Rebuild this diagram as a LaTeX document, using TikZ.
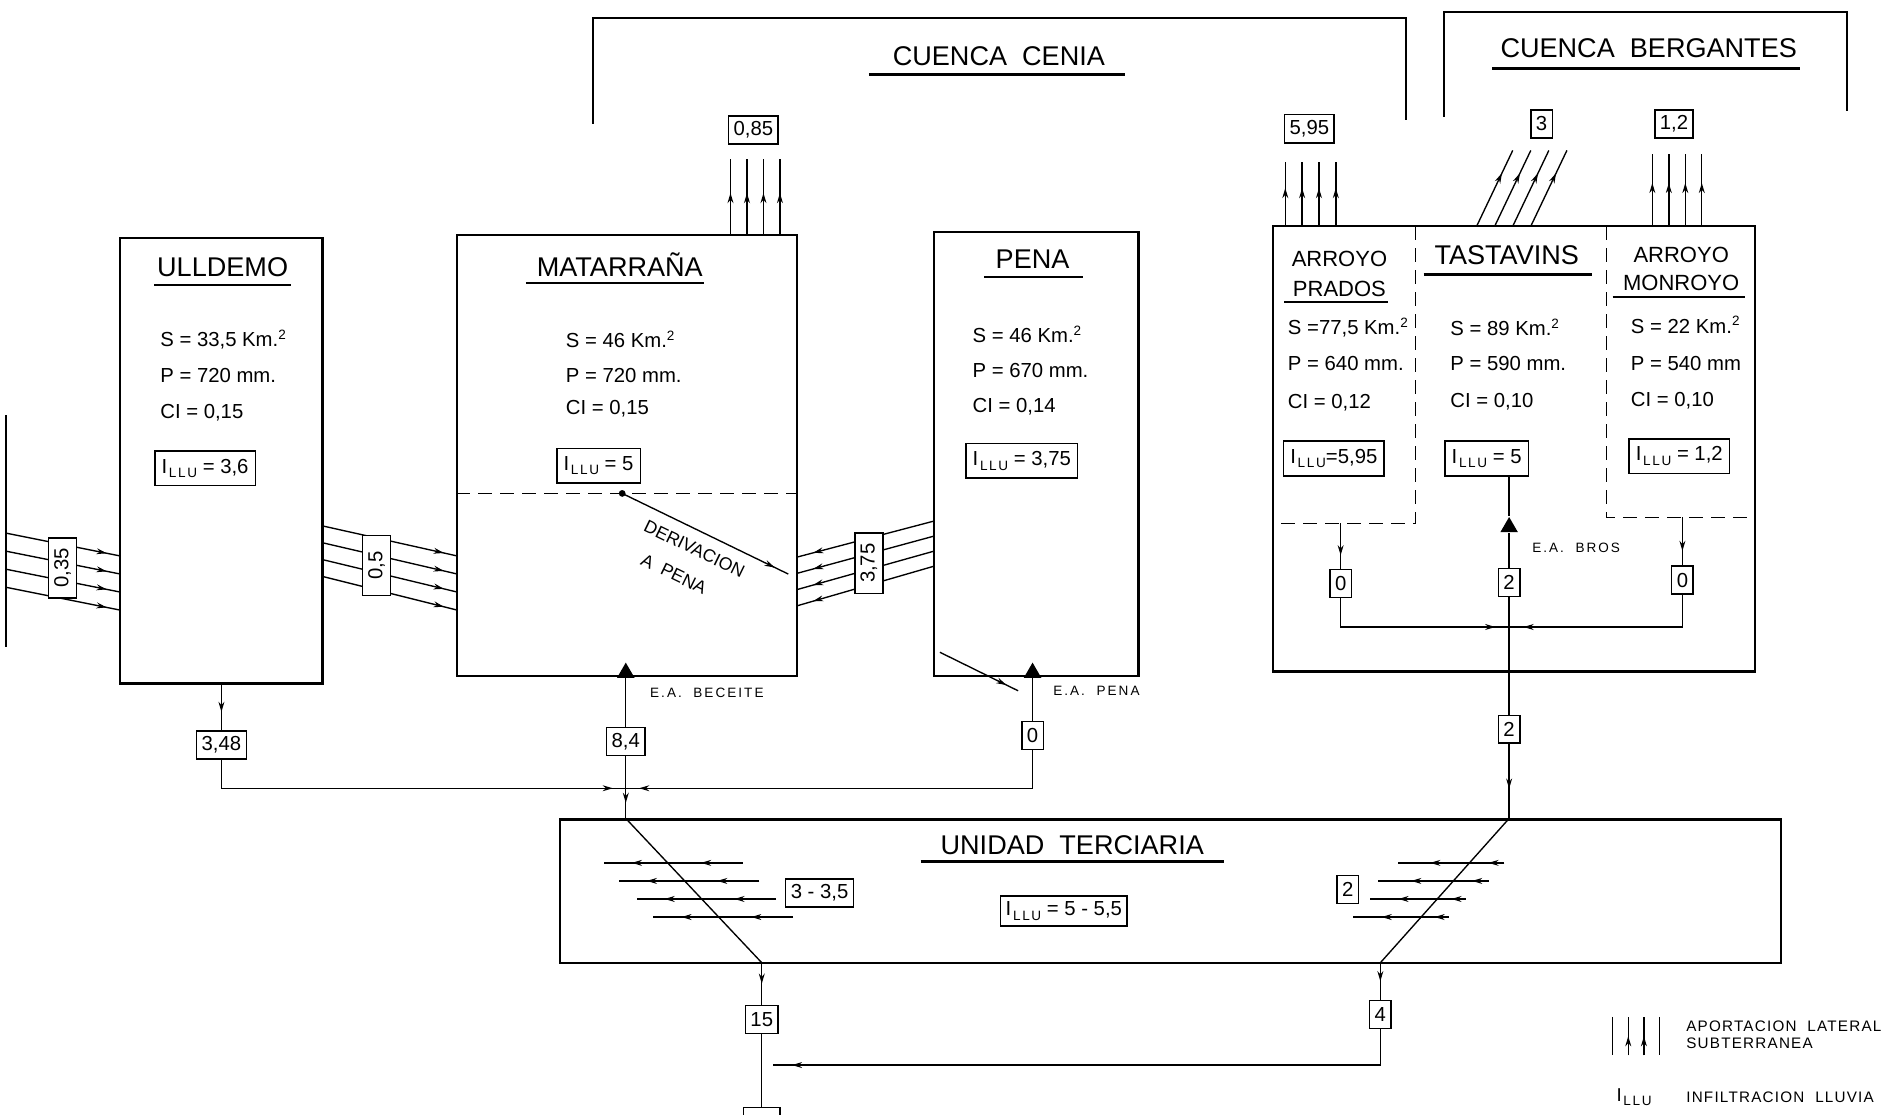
\documentclass[tikz,border=0pt]{standalone}
\usepackage{fontspec}
\setmainfont{Liberation Sans}
\newfontfamily\spaced{Liberation Sans}[LetterSpace=15]
\newfontfamily\legfont{Liberation Sans}[LetterSpace=8]
\usetikzlibrary{positioning,fit,arrows.meta,decorations.markings,shapes.geometric}
\newcommand\illu{I\kern1pt\raisebox{-0.4ex}{\fontsize{8}{8}\selectfont L\kern1pt L\kern1pt U}}
\tikzset{
  box/.style={draw,line width=1.3pt,inner sep=0pt},
  val/.style={draw,fill=white,line width=0.9pt,inner xsep=3pt,minimum height=0.58cm,font=\fontsize{12}{12}\selectfont},
  rval/.style={val,rotate=90,minimum width=1.25cm},
  ilbox/.style={draw,line width=0.9pt,inner xsep=4pt,minimum height=0.72cm,anchor=west,font=\fontsize{12}{12}\selectfont},
  dat/.style={anchor=west,font=\fontsize{12}{12}\selectfont},
  ttl/.style={font=\fontsize{16}{16}\selectfont},
  sttl/.style={font=\fontsize{13}{13}\selectfont},
  lbl/.style={anchor=west,font=\spaced\fontsize{8}{8}\selectfont},
  rlbl/.style={anchor=center,rotate=-25.9,font=\fontsize{10.5}{10.5}\selectfont},
  leg/.style={anchor=west,font=\legfont\fontsize{9}{9}\selectfont},
  uline/.style={line width=1.5pt},
  tri/.style={regular polygon,regular polygon sides=3,fill,inner sep=0pt,minimum size=0.42cm},
  midarr/.style={postaction={decorate},decoration={markings,mark=at position #1 with {\arrow{Stealth[length=6pt,width=3.5pt]}}}},
  midarr/.default=0.5,
  twoarr/.style 2 args={postaction={decorate},decoration={markings,
      mark=at position #1 with {\arrow{Stealth[length=6pt,width=3.5pt]}},
      mark=at position #2 with {\arrow{Stealth[length=6pt,width=3.5pt]}}}},
  dsh/.style={dash pattern=on 8pt off 5pt}
}
\begin{document}
\begin{tikzpicture}[x=0.025cm,y=-0.025cm,line width=0.8pt]
\useasboundingbox (0,0) rectangle (1568,926);

\coordinate (cenl) at (493,103);
\coordinate (cenr) at (1168,100);
\coordinate (berl) at (1200,97);
\coordinate (berr) at (1535,92);
\draw[line width=1.3pt] (cenl) -- (493,15) -- (1168,15) -- (cenr);
\draw[line width=1.3pt] (berl) -- (1200,10) -- (1535,10) -- (berr);
\node[ttl] (cenia) at (830,47) {CUENCA\ \ CENIA};
\draw[uline] (722,62) -- (935,62);
\node[ttl] (bergantes) at (1370,40) {CUENCA\ \ BERGANTES};
\draw[uline] (1240,57) -- (1496,57);

\node[box,fit={(100,198) (268,568)}] (ull) {};
\node[ttl] (tull) at (185,222) {ULLDEMO};
\draw[uline] (128,237) -- (242,237);
\node[dat] (sull) at (128,282) {S = 33,5 Km.\textsuperscript{2}};
\node[dat] (pull) at (128,312) {P = 720 mm.};
\node[dat] (cull) at (128,343) {CI = 0,15};
\node[ilbox] (iull) at (128,389) {\illu{} = 3,6};

\node[box,fit={(380,195) (662,562)}] (mat) {};
\node[ttl] (tmat) at (515,220) {MATARRAÑA};
\draw[uline] (437,235) -- (585,235);
\node[dat] (smat) at (465,282) {S = 46 Km.\textsuperscript{2}};
\node[dat] (pmat) at (465,312) {P = 720 mm.};
\node[dat] (cmat) at (465,340) {CI = 0,15};
\node[ilbox] (imat) at (462,387) {\illu{} = 5};
\draw[dsh] (mat.west |- 0,410) -- (mat.east |- 0,410);
\coordinate (dv0) at (517,410);
\coordinate (dv1) at (655,477);
\draw[midarr=0.92] (dv0) -- (dv1);
\fill (dv0) circle (2pt);
\node[rlbl] (tder) at (577,456) {DERIVACION};
\node[rlbl] (tape) at (560,477) {A\ \ PENA};

\node[box,fit={(776,193) (946,562)}] (pen) {};
\node[ttl] (tpen) at (858,215) {PENA};
\draw[uline] (818,230) -- (900,230);
\node[dat] (spen) at (803,278) {S = 46 Km.\textsuperscript{2}};
\node[dat] (ppen) at (803,308) {P = 670 mm.};
\node[dat] (cpen) at (803,338) {CI = 0,14};
\node[ilbox] (ipen) at (802,383) {\illu{} = 3,75};
\draw[midarr=0.85] (781,542) -- (846,574);

\draw (5,345) -- (5,538);
\foreach \i in {0,...,3}
  \draw[midarr=0.88] (5,443+15*\i) -- (100,462+15*\i);
\node[rval] (v035) at (52,472) {0,35};
\foreach \i in {0,...,3}
  \draw[midarr=0.9] (268,437+14*\i) -- (380,462+15*\i);
\node[rval] (v05) at (313,470) {0,5};
\foreach \i in {0,...,3}
  \draw[midarr=0.88] (776,433+12.5*\i) -- (662,463+13.5*\i);
\node[rval] (v375) at (722,468) {3,75};
\foreach \i in {0,...,3}
  \draw[midarr=0.55] (607+13.7*\i,195) -- (607+13.7*\i,132);
\node[val] (v085) at (626,108) {0,85};

\node[box,fit={(1058,188) (1458,558)}] (ber) {};
\draw[dsh] (1176,188) -- (1176,435) -- (1058,435);
\draw[dsh] (1335,188) -- (1335,430) -- (1458,430);
\node[sttl] (tpra1) at (1113,215) {ARROYO};
\node[sttl] (tpra2) at (1113,240) {PRADOS};
\draw[line width=1pt] (1067,251) -- (1153,251);
\node[ttl] (ttas) at (1252,212) {TASTAVINS};
\draw[uline] (1183,228) -- (1323,228);
\node[sttl] (tmon1) at (1397,212) {ARROYO};
\node[sttl] (tmon2) at (1397,235) {MONROYO};
\draw[line width=1pt] (1340,247) -- (1450,247);
\node[dat] (spra) at (1065,272) {S =77,5 Km.\textsuperscript{2}};
\node[dat] (ppra) at (1065,302) {P = 640 mm.};
\node[dat] (cpra) at (1065,335) {CI = 0,12};
\node[ilbox] (ipra) at (1066,381) {\illu{}=5,95};
\node[dat] (stas) at (1200,272) {S = 89 Km.\textsuperscript{2}};
\node[dat] (ptas) at (1200,302) {P = 590 mm.};
\node[dat] (ctas) at (1200,334) {CI = 0,10};
\node[ilbox] (itas) at (1200,381) {\illu{} = 5};
\node[dat] (smon) at (1350,270) {S = 22 Km.\textsuperscript{2}};
\node[dat] (pmon) at (1350,302) {P = 540 mm};
\node[dat] (cmon) at (1350,333) {CI = 0,10};
\node[ilbox] (imon) at (1353,379) {\illu{} = 1,2};

\foreach \i in {0,...,3}
  \draw[midarr=0.6] (1068+14*\i,188) -- (1068+14*\i,135);
\node[val] (v595) at (1088,107) {5,95};
\foreach \i in {0,...,3}
  \draw[midarr=0.7] (1227+15*\i,188) -- (1257+15*\i,125);
\node[val] (v3) at (1281,103) {3};
\foreach \i in {0,...,3}
  \draw[midarr=0.6] (1373+13.7*\i,188) -- (1373+13.7*\i,128);
\node[val] (v12) at (1391,103) {1,2};

\node[tri] (eab) at (1254,438) {};
\node[lbl] at (1268,455) {E.A.\ \ BROS};
\node[val] (v2a) at (1254,484) {2};
\node[val] (v0a) at (1114,485) {0};
\node[val] (v0b) at (1398,482) {0};
\draw (v2a) -- (eab);
\draw (eab) -- (itas.south -| eab);
\coordinate (pradb) at (1114,435);
\coordinate (monb) at (1398,430);
\draw[midarr=0.7] (pradb) -- (v0a);
\draw[midarr=0.7] (monb) -- (v0b);
\coordinate (jb) at (1254,521);
\draw[midarr=0.93] (v0a) |- (jb);
\draw[midarr=0.93] (v0b) |- (jb);
\node[val] (v2b) at (1254,606) {2};
\draw (v2a) -- (v2b);

\node[box,fit={(465,681) (1480,800)}] (uni) {};
\node[ttl] (tuni) at (891,702) {UNIDAD\ \ TERCIARIA};
\draw[uline] (765,716) -- (1017,716);
\node[val] (vil) at (884,757) {\illu{} = 5 - 5,5};

\node[val] (v348) at (184,619) {3,48};
\draw[midarr=0.6] (ull.south) -- (v348);
\node[tri] (eam) at (520,559) {};
\node[lbl] at (535,576) {E.A.\ \ BECEITE};
\node[val] (v84) at (520,616) {8,4};
\draw (eam) -- (v84);
\node[tri] (eap) at (858,559) {};
\node[lbl] at (870,574) {E.A.\ \ PENA};
\node[val] (v0p) at (858,611) {0};
\draw (eap) -- (v0p);
\coordinate (ja) at (520,655);
\draw[midarr=0.97] (v348) |- (ja);
\draw[midarr=0.97] (v0p) |- (ja);
\draw[midarr=0.75] (v84) -- (v84 |- uni.north);
\draw[midarr=0.6] (v2b) -- (v2b |- uni.north);

\coordinate (dl0) at (v84 |- uni.north);
\coordinate (dl1) at (633,800);
\draw (dl0) -- (dl1);
\coordinate (dr0) at (v2b |- uni.north);
\coordinate (dr1) at (1147,800);
\draw (dr0) -- (dr1);
\foreach \y/\a/\b in {717/617/502,732/631/514,747/645/529,762/659/543}
  \draw[twoarr={0.3}{0.8}] (\a,\y) -- (\b,\y);
\foreach \y/\a/\b in {717/1250/1162,732/1237/1145,747/1218/1138,762/1204/1124}
  \draw[twoarr={0.15}{0.7}] (\a,\y) -- (\b,\y);
\node[val] (v335) at (681,742) {3 - 3,5};
\node[val] (v2c) at (1120,739) {2};

\node[val] (v15) at (633,847) {15};
\draw[midarr=0.5] (dl1) -- (v15);
\node[val,minimum width=0.75cm] (vout) at (633,932) {};
\draw (v15) -- (vout);
\node[val] (v4) at (1147,843) {4};
\draw[midarr=0.5] (dr1) -- (v4);
\coordinate (jc) at (642,885);
\draw[midarr=0.97] (v4) |- (jc);

\draw (1340,845) -- (1340,877);
\draw[midarr=0.5] (1353,877) -- (1353,845);
\draw[midarr=0.5] (1366,877) -- (1366,845);
\draw (1379,845) -- (1379,877);
\node[leg] (leg1) at (1396,853) {APORTACION\ \ LATERAL};
\node[leg] (leg2) at (1396,867) {SUBTERRANEA};
\node[leg,font=\fontsize{11}{11}\selectfont] (leg3) at (1338,912) {\illu};
\node[leg] (leg4) at (1396,912) {INFILTRACION\ \ LLUVIA};
\end{tikzpicture}
\end{document}
